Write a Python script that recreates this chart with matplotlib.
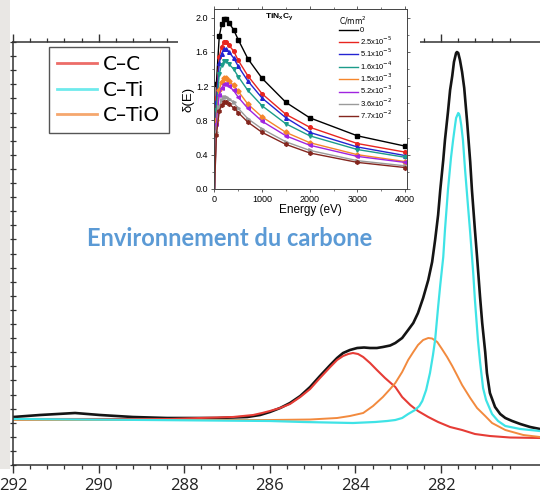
import matplotlib
matplotlib.use('Agg')
import matplotlib.pyplot as plt
import numpy as np
from matplotlib.lines import Line2D
from matplotlib.patches import Rectangle
from matplotlib.ticker import FixedLocator

# ---- main XPS C1s spectrum (binding energy in eV, intensity a.u.) ----
be_total = [292.00, 291.37, 290.55, 289.97, 289.20, 288.40, 287.23, 286.53, 286.23, 286.00,
            285.76, 285.53, 285.29, 285.06, 284.83, 284.59, 284.43, 284.29, 284.13, 283.96,
            283.80, 283.66, 283.50, 283.36, 283.19, 283.07, 282.91, 282.77, 282.65, 282.54,
            282.42, 282.30, 282.21, 282.14, 282.07, 282.02, 281.95, 281.91, 281.84, 281.79,
            281.74, 281.70, 281.65, 281.63, 281.60, 281.56, 281.51, 281.46, 281.39, 281.32,
            281.28, 281.21, 281.16, 281.09, 281.04, 280.97, 280.93, 280.86, 280.74, 280.62,
            280.50, 280.34, 280.15, 279.92, 279.69]
i_total = [48, 50, 52, 50, 48, 47, 47, 48, 50, 53,
           57, 62, 69, 78, 89, 100, 107, 112, 115, 117,
           117.5, 117, 117, 118, 119.5, 122, 127, 135, 142, 152,
           167, 185, 203, 225, 250, 275, 305, 325, 353, 375,
           389, 403, 412, 413, 412, 405, 393, 377, 342, 303,
           275, 235, 208, 168, 142, 113, 92, 72, 58, 51,
           47, 44, 41, 38, 36]

be_cc = [292.00, 289.50, 288.33, 287.63, 286.86, 286.39, 286.18, 286.00, 285.76, 285.53,
         285.29, 285.06, 284.83, 284.59, 284.43, 284.29, 284.17, 284.06, 283.94, 283.82,
         283.66, 283.50, 283.31, 283.07, 282.91, 282.72, 282.54, 282.30, 282.07, 281.79,
         281.51, 281.21, 280.86, 280.39, 279.69]
i_cc = [46, 46, 46, 47, 48, 50, 52, 54, 57, 61,
        68, 76, 87, 98, 105, 109, 111, 112, 111, 108,
        102, 95, 87, 78, 68, 60, 54, 48, 43, 38,
        35, 31, 29, 27.5, 27]

be_tio = [292.00, 287.63, 286.00, 285.06, 284.43, 284.13, 283.82, 283.59, 283.36, 283.19,
          283.07, 282.91, 282.77, 282.65, 282.54, 282.42, 282.30, 282.21, 282.09, 281.98,
          281.86, 281.74, 281.63, 281.51, 281.32, 281.16, 280.97, 280.81, 280.50, 280.08,
          279.69]
i_tio = [45, 45, 45, 45.5, 47, 49, 52, 59, 68, 76,
         82, 93, 105, 113, 120, 125, 127, 126.5, 123, 116,
         108, 99, 90, 80, 67, 57, 49, 42, 35, 30,
         28]

be_ti = [292.00, 288.80, 286.00, 285.22, 284.06, 283.54, 283.26, 283.07, 282.91, 282.77,
         282.61, 282.51, 282.44, 282.35, 282.26, 282.19, 282.14, 282.07, 282.02, 281.95,
         281.91, 281.84, 281.77, 281.72, 281.67, 281.65, 281.60, 281.58, 281.56, 281.53,
         281.49, 281.44, 281.37, 281.32, 281.25, 281.21, 281.14, 281.09, 281.02, 280.95,
         280.90, 280.81, 280.67, 280.50, 280.15, 279.69]
i_ti = [46, 45, 44, 43, 42, 43, 44, 45, 47, 51,
        55, 59, 64, 75, 92, 110, 125, 158, 180, 208,
        235, 275, 307, 325, 341, 347, 352, 351, 348, 340,
        325, 295, 258, 232, 192, 165, 125, 103, 77, 65,
        60, 51, 44, 39, 36, 34]

comp_labels = ['C–C', 'C–Ti', 'C–TiO']
x_ticks = [292, 290, 288, 286, 284, 282]

# ---- inset: secondary electron yield vs primary energy ----
energy = [0, 40, 100, 150, 200, 250, 300, 400, 500, 700, 1000, 1500, 2000, 3000, 4000]
sey_0 = [0, 1.23, 1.78, 1.92, 1.98, 1.98, 1.94, 1.86, 1.74, 1.52, 1.29, 1.01, 0.83, 0.62, 0.50]
sey_1 = [0, 1.06, 1.54, 1.66, 1.71, 1.71, 1.68, 1.61, 1.50, 1.32, 1.11, 0.87, 0.72, 0.53, 0.43]
sey_2 = [0, 1.01, 1.47, 1.58, 1.63, 1.63, 1.60, 1.53, 1.43, 1.26, 1.06, 0.83, 0.66, 0.49, 0.39]
sey_3 = [0, 0.92, 1.34, 1.45, 1.49, 1.49, 1.46, 1.40, 1.31, 1.15, 0.97, 0.76, 0.62, 0.46, 0.37]
sey_4 = [0, 0.80, 1.16, 1.25, 1.29, 1.29, 1.26, 1.21, 1.14, 0.99, 0.84, 0.66, 0.54, 0.40, 0.32]
sey_5 = [0, 0.76, 1.10, 1.18, 1.22, 1.22, 1.20, 1.15, 1.07, 0.94, 0.79, 0.62, 0.51, 0.38, 0.31]
sey_6 = [0, 0.66, 0.96, 1.04, 1.07, 1.07, 1.05, 1.01, 0.94, 0.82, 0.70, 0.55, 0.45, 0.33, 0.27]
sey_7 = [0, 0.63, 0.91, 0.98, 1.01, 1.01, 0.99, 0.95, 0.89, 0.78, 0.66, 0.52, 0.42, 0.31, 0.25]
dose_labels = ['0', '2.5x10$^{-5}$', '5.1x10$^{-5}$', '1.6x10$^{-4}$',
               '1.5x10$^{-3}$', '5.2x10$^{-3}$', '3.6x10$^{-2}$', '7.7x10$^{-2}$']

sey_series = [sey_0, sey_1, sey_2, sey_3, sey_4, sey_5, sey_6, sey_7]
sey_colors = ['#000000', '#e8251f', '#2424d2', '#1c9c8a', '#f5862b', '#a024e0', '#9a9a9a', '#84261e']
sey_markers = ['s', 'o', '^', 'v', 'D', '<', '>', 'h']

fig = plt.figure(figsize=(5.4, 4.96), dpi=100)
fig.patch.set_facecolor('white')
fig.add_artist(Rectangle((0, 0.055), 0.019, 0.945, transform=fig.transFigure,
                         facecolor='#e9e7e4', edgecolor='none', zorder=0))

ax = fig.add_axes([0.0241, 0.0625, 0.9759, 0.8528])
line_kw = dict(solid_joinstyle='round', solid_capstyle='round')
ax.plot(be_total, i_total, color='#141414', lw=1.9, **line_kw)
ax.plot(be_cc, i_cc, color='#e63c36', lw=1.5, **line_kw)
ax.plot(be_tio, i_tio, color='#f28a3e', lw=1.4, **line_kw)
ax.plot(be_ti, i_ti, color='#3fe3e6', lw=1.6, **line_kw)
ax.set_xlim(292, 279.69)
ax.set_ylim(0, 423)
ax.xaxis.set_major_locator(FixedLocator(x_ticks))
ax.xaxis.set_minor_locator(FixedLocator(np.arange(291.6, 280.3, -0.4)))
ax.set_xticklabels([str(t) for t in x_ticks], fontfamily='Open Sans', fontsize=12, color='#222222')
ax.set_yticks(np.linspace(0, 423, 31))
ax.spines['right'].set_visible(False)
for s in ['left', 'top', 'bottom']:
    ax.spines[s].set_color('#333333')
    ax.spines[s].set_linewidth(1.1)
ax.tick_params(axis='x', which='major', direction='out', length=6, width=1, top=True,
               color='#333333', pad=3)
ax.tick_params(axis='x', which='minor', direction='out', length=3, width=0.9, top=True,
               color='#333333')
ax.tick_params(axis='y', direction='inout', length=5, width=0.9, labelleft=False, color='#333333')

handles = [Line2D([], [], color=c, lw=2, alpha=0.75) for c in ['#e63c36', '#3fe3e6', '#f28a3e']]
leg = ax.legend(handles, comp_labels, loc='upper left', bbox_to_anchor=(0.0907, 0.9052),
                bbox_transform=fig.transFigure, fontsize=14.5, fancybox=False,
                edgecolor='#555555', framealpha=1, borderaxespad=0, handlelength=2.0,
                handletextpad=0.3, labelspacing=0.33, borderpad=0.4)
leg.get_frame().set_linewidth(1.0)

fig.text(0.426, 0.520, 'Environnement du carbone', color='#5b9ad5', fontsize=17,
         fontfamily='Lato', fontweight='bold', ha='center', va='center')

# white patch behind the inset (hides the main top spine there)
fig.add_artist(Rectangle((0.33, 0.56), 0.448, 0.44, transform=fig.transFigure,
                         facecolor='white', edgecolor='none', zorder=1))

ins = fig.add_axes([0.3963, 0.6190, 0.3574, 0.3629])
ins.set_zorder(2)
for vals, col, mk, lab in zip(sey_series, sey_colors, sey_markers, dose_labels):
    ins.plot(energy, vals, color=col, lw=1.0, label=lab)
    ins.plot(energy[1:], vals[1:], ls='none', marker=mk, ms=2.6, color=col)
ins.set_xlim(-10, 4040)
ins.set_ylim(0, 2.1)
ins.set_xticks([0, 1000, 2000, 3000, 4000])
ins.set_xticks(np.arange(500, 4000, 1000), minor=True)
ins.set_yticks([0.0, 0.4, 0.8, 1.2, 1.6, 2.0])
ins.set_yticks(np.arange(0.2, 2.1, 0.4), minor=True)
ins.tick_params(which='major', direction='out', length=2.5, width=0.6, top=True, right=True,
                labelsize=6.5, pad=1.5, color='#444444')
ins.tick_params(which='minor', direction='out', length=1.5, width=0.5, top=True, right=True,
                color='#444444')
for lbl in ins.get_xticklabels() + ins.get_yticklabels():
    lbl.set_fontfamily('Liberation Sans')
for s in ins.spines.values():
    s.set_linewidth(0.7)
    s.set_color('#444444')
ins.set_xlabel('Energy (eV)', fontsize=8.5, fontfamily='Liberation Sans', labelpad=0)
ins.set_ylabel('δ(E)', fontsize=9.5, fontfamily='Liberation Sans', labelpad=1)
ins.text(0.34, 0.955, r'TiN$_\mathregular{x}$C$_\mathregular{y}$', fontsize=6, fontweight='bold',
         fontfamily='Liberation Sans', ha='center', va='center', transform=ins.transAxes)
ins.legend(title='C/mm$^2$', loc='upper left', bbox_to_anchor=(0.63, 0.99), frameon=False,
           title_fontsize=5.5, handlelength=2.4, handletextpad=0.3,
           labelspacing=0.0, borderpad=0, alignment='left',
           prop={'family': 'Liberation Sans', 'size': 5.5})

fig.savefig('out.png', dpi=100, facecolor=fig.get_facecolor())
